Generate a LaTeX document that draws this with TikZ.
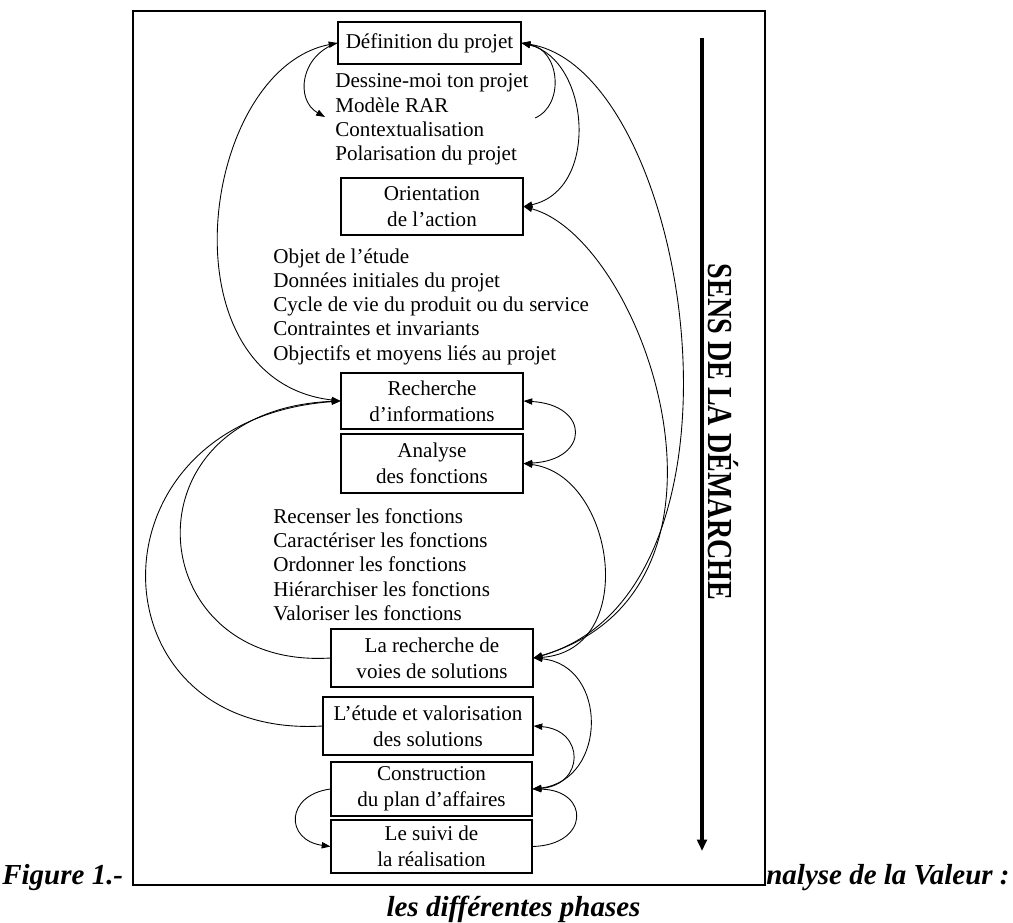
\documentclass[tikz,border=0pt]{standalone}
\usepackage{fontspec}
\setmainfont{Liberation Serif}
\usetikzlibrary{arrows.meta}

\begin{document}
\begin{tikzpicture}[x=0.02cm, y=-0.02cm,
    >={Triangle[length=5pt,width=3.6pt]},
    phase/.style={draw, line width=0.6pt, inner sep=0pt, align=center,
                  font=\fontsize{12}{14.7}\selectfont},
    liste/.style={anchor=west, align=left, inner sep=0pt,
                  font=\fontsize{12}{13.8}\selectfont},
    lien/.style={line width=0.5pt},
    sens/.style={rotate=-90, inner sep=0pt, font=\fontsize{20}{20}\selectfont\bfseries},
    legende/.style={inner sep=0pt, font=\fontsize{16.5}{18}\selectfont\bfseries\itshape}]
  \useasboundingbox (0,0) rectangle (1013,922);
  \draw[line width=1.2pt] (133,11) rectangle (765,885);

  \node[phase, minimum width=3.66cm, minimum height=0.84cm] (def) at (429.5,43) {Définition du projet};
  \node[phase, minimum width=3.64cm, minimum height=1.14cm] (orient) at (432,206.5) {Orientation\\de l’action};
  \node[phase, minimum width=3.64cm, minimum height=1.12cm] (rech) at (432,401) {Recherche\\d’informations};
  \node[phase, minimum width=3.64cm, minimum height=1.18cm] (anal) at (432,463.5) {Analyse\\des fonctions};
  \node[phase, minimum width=4.04cm, minimum height=1.16cm] (voies) at (432,658) {La recherche de\\voies de solutions};
  \node[phase, minimum width=4.20cm, minimum height=1.16cm] (etude) at (428,726) {L’étude et valorisation\\des solutions};
  \node[phase, minimum width=4.02cm, minimum height=1.08cm] (constr) at (431.5,789) {Construction\\du plan d’affaires};
  \node[phase, minimum width=4.02cm, minimum height=1.06cm] (suivi) at (431.5,846.5) {Le suivi de\\la réalisation};

  \node[liste] (l1) at (335,119.5) {Dessine-moi ton projet\\Modèle RAR\\Contextualisation\\Polarisation du projet};
  \node[liste] (l2) at (273,306.5) {Objet de l’étude\\Données initiales du projet\\Cycle de vie du produit ou du service\\Contraintes et invariants\\Objectifs et moyens liés au projet};
  \node[liste] (l3) at (273,564.5) {Recenser les fonctions\\Caractériser les fonctions\\Ordonner les fonctions\\Hiérarchiser les fonctions\\Valoriser les fonctions};

  \coordinate (defg) at (325,117);
  \coordinate (defd) at (535,118);
  \draw[lien,<->] (def.west) .. controls (200,70) and (160,380) .. (rech.west);
  \draw[lien,->] (def.west) .. controls (300,55) and (295,100) .. (defg);
  \draw[lien,->] (defd) .. controls (565,105) and (560,50) .. (def.east);
  \draw[lien,<->] (def.east) .. controls (590,60) and (600,190) .. (orient.east);
  \draw[lien,<->] (def.east) .. controls (690,70) and (770,590) .. (voies.east);
  \draw[lien,<->] (orient.east) .. controls (645,240) and (765,590) .. (voies.east);
  \draw[lien,<->] (rech.east) .. controls (590,405) and (590,460) .. (anal.east);
  \draw[lien,<->] (anal.east) .. controls (615,475) and (640,650) .. (voies.east);
  \draw[lien,->] (voies.west) .. controls (140,670) and (120,410) .. (rech.west);
  \draw[lien,->] (etude.west) .. controls (90,740) and (80,420) .. (rech.west);
  \draw[lien,<->] (voies.east) .. controls (608,665) and (608,780) .. (constr.east);
  \draw[lien,<->] (etude.east) .. controls (585,730) and (585,785) .. (constr.east);
  \draw[lien,->] (constr.west) .. controls (285,795) and (285,840) .. (suivi.west);
  \draw[lien,->] (suivi.east) .. controls (590,845) and (590,790) .. (constr.east);

  \coordinate (haut) at (702,38);
  \coordinate (bas) at (702,851);
  \draw[line width=2pt, -{Triangle[length=6.5pt,width=5.5pt]}] (haut) -- (bas);
  \node[sens] (demarche) at (723,432) {\scalebox{0.8}[1]{SENS DE LA DÉMARCHE}};

  \node[legende, anchor=base west] (fig) at (2,884) {Figure 1.-};
  \node[legende, anchor=base west] (titre) at (766,884) {nalyse de la Valeur :};
  \node[legende, anchor=base] (phases) at (513.5,916) {les différentes phases};
\end{tikzpicture}
\end{document}
